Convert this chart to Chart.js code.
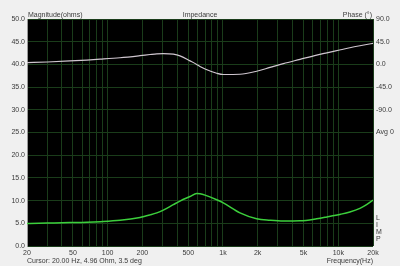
<!DOCTYPE html>
<html>
<head>
<meta charset="utf-8">
<script src="https://cdn.jsdelivr.net/npm/chart.js@4/dist/chart.umd.min.js"></script>
<style>
  html, body { margin: 0; padding: 0; background: #f0f0f0; }
  #c { display: block; }
</style>
</head>
<body>
<canvas id="c" width="400" height="266"></canvas>
<script>
// impedance sweep
const freqs = [20, 30, 47, 66, 86, 128, 191, 233, 267, 304, 371, 424, 518, 592, 632, 700, 883, 1007,
  1405, 1960, 2560, 3340, 4660, 6500, 7960, 10500, 12600, 15400, 17600, 20000];
const magnitude = [4.96, 5.05, 5.15, 5.23, 5.35, 5.65, 6.3, 6.85, 7.3, 7.9, 9.1, 9.9, 10.9, 11.55, 11.5, 11.2, 10.2, 9.5,
  7.3, 6.0, 5.67, 5.5, 5.55, 6.0, 6.4, 7.0, 7.5, 8.3, 9.1, 10.1];
const phase = [3.5, 4.8, 6.8, 8.6, 10.3, 13.2, 17.3, 19.6, 21.0, 21.4, 20.3, 17, 7, 0, -4, -9, -17.5, -20,
  -19.5, -13.5, -6, 1.5, 10, 18.5, 23, 29, 33, 37, 39.5, 41.7];

const freqLabels = [20, 50, 100, 200, 500, 1000, 2000, 5000, 10000, 20000];
const freqGrid = [20, 30, 40, 50, 60, 70, 80, 90, 100, 200, 300, 400, 500, 600, 700, 800, 900,
  1000, 2000, 3000, 4000, 5000, 6000, 7000, 8000, 9000, 10000, 20000];
const phaseLabels = { 90: '90.0', 45: '45.0', 0: '0.0', '-45': '-45.0', '-90': '-90.0', '-135': 'Avg 0' };

const textColor = '#3a3a3a';
const gridColor = '#1a3c1a';
const font = { family: 'Liberation Sans, Arial, sans-serif', size: 7 };

const fmtFreq = v => v >= 1000 ? (v / 1000) + 'k' : String(v);

// titles, cursor readout and the LIMP letters
const textPlugin = {
  id: 'texts',
  beforeDraw(chart) {
    const a = chart.chartArea, ctx = chart.ctx;
    ctx.save();
    ctx.fillStyle = '#000';
    ctx.fillRect(a.left, a.top, a.right - a.left, a.bottom - a.top);
    ctx.restore();
  },
  afterDraw(chart) {
    const a = chart.chartArea, ctx = chart.ctx;
    ctx.save();
    ctx.font = '7px Liberation Sans, Arial, sans-serif';
    ctx.fillStyle = textColor;
    ctx.textBaseline = 'alphabetic';
    ctx.textAlign = 'left';
    ctx.fillText('Magnitude(ohms)', a.left + 1, 17);
    ctx.textAlign = 'center';
    ctx.fillText('Impedance', (a.left + a.right) / 2, 17);
    ctx.textAlign = 'right';
    ctx.fillText('Phase (°)', a.right - 1, 17);
    ctx.textAlign = 'left';
    ctx.fillText('Cursor: 20.00 Hz, 4.96 Ohm, 3.5 deg', a.left, 263);
    ctx.textAlign = 'right';
    ctx.fillText('Frequency(Hz)', a.right, 263);
    ctx.textAlign = 'left';
    ['L', 'I', 'M', 'P'].forEach((ch, i) => ctx.fillText(ch, a.right + 3, 220 + i * 7));
    ctx.restore();
  }
};

new Chart(document.getElementById('c'), {
  type: 'line',
  data: {
    datasets: [{
      label: 'Magnitude',
      data: freqs.map((f, i) => ({ x: f, y: magnitude[i] })),
      borderColor: '#3ccf3c',
      borderWidth: 1.5,
      pointRadius: 0,
      cubicInterpolationMode: 'monotone',
      yAxisID: 'y'
    }, {
      label: 'Phase',
      data: freqs.map((f, i) => ({ x: f, y: phase[i] })),
      borderColor: '#cfc6cf',
      borderWidth: 1.2,
      pointRadius: 0,
      cubicInterpolationMode: 'monotone',
      yAxisID: 'y1'
    }]
  },
  options: {
    responsive: false,
    animation: false,
    layout: { padding: { top: 19, left: 0, right: 0, bottom: 0 } },
    plugins: { legend: { display: false }, tooltip: { enabled: false } },
    scales: {
      x: {
        type: 'logarithmic',
        min: 20, max: 20000,
        afterBuildTicks: s => { s.ticks = freqGrid.map(v => ({ value: v })); },
        afterFit: s => { s.height = 20; },
        grid: { color: gridColor, drawTicks: false },
        border: { display: false },
        ticks: {
          autoSkip: false, maxRotation: 0, padding: 3,
          color: textColor, font,
          callback: v => freqLabels.includes(v) ? fmtFreq(v) : ''
        }
      },
      y: {
        position: 'left',
        min: 0, max: 50,
        afterFit: s => { s.width = 27; },
        grid: { color: gridColor, drawTicks: false },
        border: { color: '#9a9a9a' },
        ticks: { stepSize: 5, padding: 2, color: textColor, font, callback: v => v.toFixed(1) }
      },
      y1: {
        position: 'right',
        min: -360, max: 90,
        afterFit: s => { s.width = 27; },
        grid: { display: false, drawTicks: false },
        border: { display: false },
        ticks: {
          stepSize: 45, padding: 3, color: textColor, font,
          callback: v => phaseLabels[v] || ''
        }
      }
    }
  },
  plugins: [textPlugin]
});
</script>
</body>
</html>
